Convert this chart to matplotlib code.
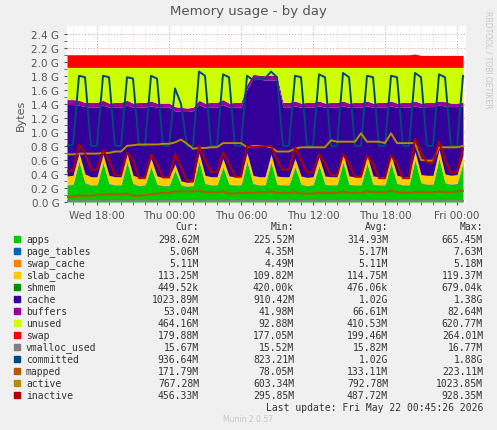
import matplotlib
matplotlib.use("Agg")
import matplotlib.pyplot as plt
import numpy as np

# half-hour samples, Wed 15:30 .. Fri 00:30 (hours since Wed 00:00)
hours = [15.5 + 0.5 * i for i in range(67)]

# physical RAM (G); "unused" is what's left after the other areas
mem_total = 1.92

# stacked areas (G)
apps = [0.24, 0.25, 0.58, 0.27, 0.24, 0.24, 0.56, 0.26, 0.24, 0.24, 0.57, 0.26, 0.23, 0.24, 0.50, 0.25,
        0.23, 0.23, 0.45, 0.24, 0.22, 0.23, 0.58, 0.26, 0.24, 0.24, 0.50, 0.25, 0.24, 0.24, 0.58, 0.26,
        0.24, 0.24, 0.56, 0.25, 0.24, 0.24, 0.50, 0.25, 0.23, 0.24, 0.52, 0.25, 0.24, 0.24, 0.57, 0.25,
        0.24, 0.24, 0.55, 0.25, 0.24, 0.24, 0.55, 0.26, 0.24, 0.24, 0.60, 0.27, 0.25, 0.25, 0.62, 0.27,
        0.25, 0.26, 0.55]
page_tables = [0.005] * 67
swap_cache = [0.005] * 67
slab_cache = [0.12, 0.12, 0.11, 0.12, 0.11, 0.11, 0.11, 0.11, 0.11, 0.11, 0.11, 0.11, 0.11, 0.11, 0.11, 0.11,
              0.11, 0.11, 0.08, 0.05, 0.05, 0.06, 0.11, 0.11, 0.11, 0.11, 0.11, 0.11, 0.11, 0.11, 0.11, 0.11,
              0.11, 0.11, 0.11, 0.11, 0.11, 0.11, 0.11, 0.11, 0.11, 0.11, 0.11, 0.11, 0.11, 0.11, 0.11, 0.11,
              0.11, 0.11, 0.11, 0.11, 0.11, 0.11, 0.11, 0.11, 0.11, 0.11, 0.11, 0.11, 0.12, 0.12, 0.12, 0.12,
              0.12, 0.12, 0.11]
shmem = [0.0005] * 67
cache = [1.02, 1.01, 0.68, 0.96, 0.99, 0.99, 0.70, 0.97, 0.99, 0.99, 0.69, 0.97, 1.00, 0.99, 0.75, 0.98,
         1.00, 1.00, 0.76, 0.99, 1.01, 1.00, 0.69, 0.97, 0.99, 0.99, 0.77, 0.98, 0.99, 0.99, 0.91, 1.38,
         1.39, 1.38, 1.06, 1.37, 0.99, 0.99, 0.75, 0.98, 1.00, 0.99, 0.73, 0.98, 0.99, 0.99, 0.68, 0.98,
         0.99, 0.99, 0.70, 0.98, 0.99, 0.99, 0.70, 0.97, 0.99, 0.99, 0.65, 0.96, 0.98, 0.98, 0.63, 0.97,
         0.98, 0.97, 0.70]
buffers = [0.07, 0.07, 0.07, 0.06, 0.07, 0.07, 0.07, 0.06, 0.07, 0.07, 0.07, 0.06, 0.07, 0.07, 0.07, 0.06,
           0.06, 0.06, 0.06, 0.06, 0.05, 0.05, 0.06, 0.06, 0.07, 0.07, 0.07, 0.06, 0.07, 0.07, 0.07, 0.06,
           0.06, 0.06, 0.07, 0.06, 0.07, 0.07, 0.07, 0.06, 0.07, 0.07, 0.07, 0.06, 0.07, 0.07, 0.07, 0.06,
           0.07, 0.07, 0.07, 0.06, 0.07, 0.07, 0.07, 0.06, 0.07, 0.07, 0.07, 0.06, 0.06, 0.06, 0.06, 0.06,
           0.05, 0.05, 0.05]
swap = [0.18] * 58 + [0.19] + [0.17] * 8

# lines (G)
vmalloc_used = [0.016] * 67
committed = [0.80, 0.82, 1.80, 1.78, 0.80, 0.80, 1.80, 1.78, 0.80, 0.80, 1.78, 1.76, 0.81, 0.80, 1.80, 1.76,
             0.80, 0.80, 1.62, 1.40, 0.80, 0.80, 1.86, 1.80, 0.80, 0.80, 1.82, 1.78, 0.80, 0.80, 1.80, 1.74,
             1.76, 1.76, 1.86, 1.78, 0.80, 0.80, 1.80, 1.78, 0.80, 0.80, 1.82, 1.78, 0.80, 0.80, 1.84, 1.78,
             0.80, 0.80, 1.80, 1.78, 0.80, 0.80, 1.80, 1.78, 0.80, 0.80, 1.84, 1.78, 0.80, 0.80, 1.82, 1.78,
             0.80, 0.80, 1.80]
mapped = [0.07, 0.08, 0.09, 0.09, 0.09, 0.10, 0.11, 0.11, 0.11, 0.11, 0.12, 0.09, 0.09, 0.10, 0.11, 0.12,
          0.13, 0.13, 0.15, 0.15, 0.15, 0.15, 0.16, 0.14, 0.14, 0.14, 0.15, 0.12, 0.12, 0.13, 0.13, 0.13,
          0.14, 0.14, 0.15, 0.13, 0.13, 0.13, 0.14, 0.12, 0.12, 0.12, 0.13, 0.13, 0.13, 0.13, 0.15, 0.13,
          0.13, 0.13, 0.15, 0.14, 0.14, 0.14, 0.16, 0.14, 0.13, 0.13, 0.14, 0.14, 0.14, 0.14, 0.15, 0.14,
          0.14, 0.15, 0.16]
active = [0.68, 0.68, 0.69, 0.69, 0.69, 0.69, 0.70, 0.70, 0.72, 0.72, 0.80, 0.81, 0.82, 0.82, 0.82, 0.82,
          0.83, 0.83, 0.85, 0.89, 0.83, 0.76, 0.77, 0.77, 0.78, 0.78, 0.84, 0.84, 0.84, 0.84, 0.78, 0.80,
          0.80, 0.80, 0.78, 0.72, 0.72, 0.72, 0.76, 0.78, 0.78, 0.78, 0.78, 0.78, 0.88, 0.86, 0.86, 0.86,
          0.86, 0.98, 0.86, 0.86, 0.86, 0.84, 0.98, 0.84, 0.84, 0.84, 0.84, 0.60, 0.59, 0.59, 0.78, 0.78,
          0.78, 0.78, 0.80]
inactive = [0.44, 0.45, 0.82, 0.70, 0.46, 0.46, 0.74, 0.60, 0.38, 0.38, 0.70, 0.60, 0.34, 0.34, 0.68, 0.55,
            0.35, 0.35, 0.68, 0.50, 0.29, 0.29, 0.80, 0.60, 0.43, 0.43, 0.70, 0.55, 0.36, 0.36, 0.80, 0.78,
            0.79, 0.80, 0.80, 0.60, 0.46, 0.46, 0.78, 0.60, 0.42, 0.42, 0.68, 0.55, 0.38, 0.38, 0.68, 0.55,
            0.36, 0.36, 0.66, 0.55, 0.34, 0.34, 0.66, 0.55, 0.34, 0.34, 0.90, 0.70, 0.56, 0.56, 0.86, 0.60,
            0.42, 0.43, 0.76]

colors = {"apps": "#00CC00", "page_tables": "#0066B3", "swap_cache": "#FF8000", "slab_cache": "#FFCC00",
          "shmem": "#008F00", "cache": "#330099", "buffers": "#990099", "unused": "#CCFF00",
          "swap": "#FF0000", "vmalloc_used": "#808080", "committed": "#00487D", "mapped": "#B35A00",
          "active": "#B38F00", "inactive": "#B30000"}

legend_rows = [
    ("apps", "298.62M", "225.52M", "314.93M", "665.45M"),
    ("page_tables", "5.06M", "4.35M", "5.17M", "7.63M"),
    ("swap_cache", "5.11M", "4.49M", "5.11M", "5.18M"),
    ("slab_cache", "113.25M", "109.82M", "114.75M", "119.37M"),
    ("shmem", "449.52k", "420.00k", "476.06k", "679.04k"),
    ("cache", "1023.89M", "910.42M", "1.02G", "1.38G"),
    ("buffers", "53.04M", "41.98M", "66.61M", "82.64M"),
    ("unused", "464.16M", "92.88M", "410.53M", "620.77M"),
    ("swap", "179.88M", "177.05M", "199.46M", "264.01M"),
    ("vmalloc_used", "15.67M", "15.52M", "15.82M", "16.77M"),
    ("committed", "936.64M", "823.21M", "1.02G", "1.88G"),
    ("mapped", "171.79M", "78.05M", "133.11M", "223.11M"),
    ("active", "767.28M", "603.34M", "792.78M", "1023.85M"),
    ("inactive", "456.33M", "295.85M", "487.72M", "928.35M"),
]

used = [np.array(s) for s in (apps, page_tables, swap_cache, slab_cache, shmem, cache, buffers)]
unused = mem_total - sum(used)

area_names = ["apps", "page_tables", "swap_cache", "slab_cache", "shmem", "cache", "buffers", "unused", "swap"]
area_series = used + [unused, np.array(swap)]
line_names = ["vmalloc_used", "committed", "mapped", "active", "inactive"]
line_series = [vmalloc_used, committed, mapped, active, inactive]

W, H = 497, 431
fig = plt.figure(figsize=(W / 100, H / 100), dpi=100, facecolor="#F0F0F0")
ax = fig.add_axes([67 / W, 1 - 203 / H, (466 - 67) / W, (203 - 27) / H])
ax.set_facecolor("white")

x = np.array(hours)
base = np.zeros(len(x))
for name, s in zip(area_names, area_series):
    top = base + s
    ax.fill_between(x, base, top, color=colors[name], linewidth=0)
    base = top
for name, s in zip(line_names, line_series):
    ax.plot(x, s, color=colors[name], linewidth=1.4)

ax.set_xlim(15.5, 48.75)
ax.set_ylim(0, 2.51)
ax.set_yticks(np.arange(0, 2.41, 0.2))
ax.set_yticklabels([f"{v:.1f} G" for v in np.arange(0, 2.41, 0.2)])
ax.set_yticks(np.arange(0, 2.5, 0.1), minor=True)
ax.set_xticks([18, 24, 30, 36, 42, 48])
ax.set_xticklabels(["Wed 18:00", "Thu 00:00", "Thu 06:00", "Thu 12:00", "Thu 18:00", "Fri 00:00"])
ax.set_xticks(np.arange(16, 49, 1), minor=True)
ax.grid(True, which="major", color="#E0A0A0", linestyle=(0, (1, 2)), linewidth=0.7)
ax.grid(True, which="minor", color="#E8C8C8", linestyle=(0, (1, 2)), linewidth=0.5)
ax.set_axisbelow(True)
ax.tick_params(labelsize=7.5, colors="#555555", length=2, which="both")
for sp in ax.spines.values():
    sp.set_visible(False)
ax.axhline(0, color="#AAAAAA", linewidth=0.8)
ax.set_ylabel("Bytes", fontsize=8, color="#555555")
fig.text(0.5, 1 - 12 / H, "Memory usage - by day", ha="center", va="center", fontsize=9.5, color="#555555")
fig.text(488 / W, 1 - 60 / H, "RRDTOOL / TOBI OETIKER", rotation=270, ha="center", va="center",
         fontsize=5.5, color="#C8C8C8")

mono = "DejaVu Sans Mono"
fs = 7
col_x = [199, 294, 388, 483]
for cx, h in zip(col_x, ["Cur:", "Min:", "Avg:", "Max:"]):
    fig.text(cx / W, 1 - 227 / H, h, ha="right", va="center", family=mono, fontsize=fs, color="#333333")
for k, row in enumerate(legend_rows):
    y = 1 - (240 + 12 * k) / H
    fig.patches.append(plt.Rectangle((14 / W, y - 3 / H), 6 / W, 6 / H, color=colors[row[0]],
                                     transform=fig.transFigure, figure=fig))
    fig.text(26 / W, y, row[0], ha="left", va="center", family=mono, fontsize=fs, color="#333333")
    for cx, v in zip(col_x, row[1:]):
        fig.text(cx / W, y, v, ha="right", va="center", family=mono, fontsize=fs, color="#333333")
fig.text(483 / W, 1 - 408 / H, "Last update: Fri May 22 00:45:26 2026", ha="right", va="center",
         family=mono, fontsize=fs, color="#333333")
fig.text(248 / W, 1 - 420 / H, "Munin 2.0.57", ha="center", va="center", fontsize=5.5, color="#C8C8C8")

fig.savefig("out.png", dpi=100, facecolor=fig.get_facecolor())
